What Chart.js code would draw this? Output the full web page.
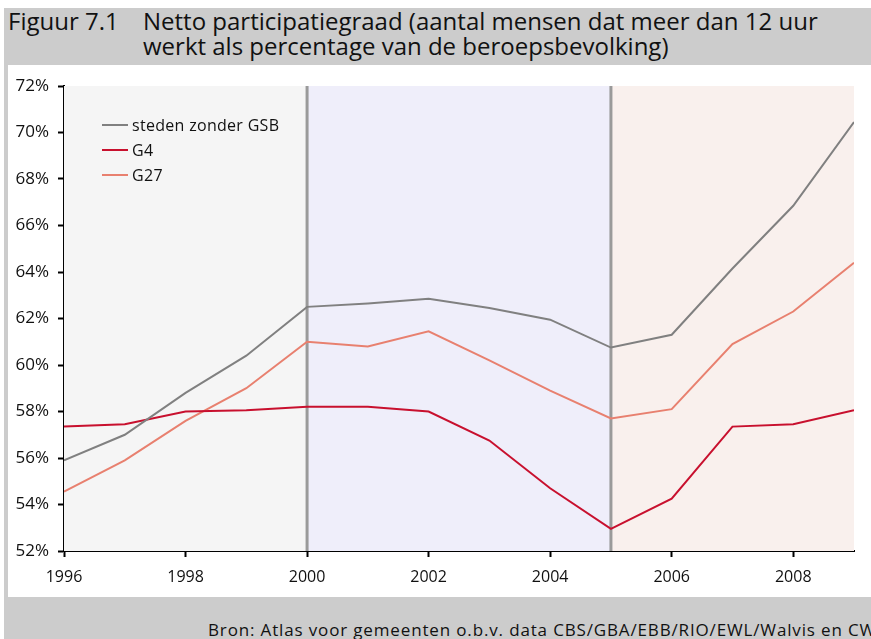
<!DOCTYPE html>
<html>
<head>
<meta charset="utf-8">
<script src="https://cdn.jsdelivr.net/npm/chart.js@4.4.1/dist/chart.umd.min.js"></script>
<style>
  html, body { margin: 0; padding: 0; width: 871px; height: 639px; overflow: hidden; background: #ffffff; font-family: "Open Sans", sans-serif; }
  #hdr { position: absolute; left: 4px; top: 8px; width: 867px; height: 57px; background: #cccccc; }
  #lstrip { position: absolute; left: 4px; top: 65px; width: 4px; height: 574px; background: #cccccc; }
  #bot { position: absolute; left: 4px; top: 597px; width: 867px; height: 42px; background: #cccccc; }
  .t { position: absolute; white-space: nowrap; color: #111; font-size: 24px; line-height: 1; letter-spacing: 0px; }
  #src { position: absolute; left: 208px; top: 621px; font-size: 17px; letter-spacing: 0.85px; white-space: nowrap; color: #111; line-height: 1; }
  #wrap { position: absolute; left: 8px; top: 65px; width: 863px; height: 532px; background: #ffffff; }
</style>
</head>
<body>
<div id="hdr"></div>
<div id="lstrip"></div>
<div id="bot"></div>
<div class="t" style="left:8px; top:9px;">Figuur 7.1</div>
<div class="t" style="left:143px; top:9px;">Netto participatiegraad (aantal mensen dat meer dan 12 uur</div>
<div class="t" style="left:143px; top:34px;">werkt als percentage van de beroepsbevolking)</div>
<div id="wrap"><canvas id="c" width="863" height="532"></canvas></div>
<div id="src">Bron: Atlas voor gemeenten o.b.v. data CBS/GBA/EBB/RIO/EWL/Walvis en CWI</div>
<script>
const years = [1996, 1997, 1998, 1999, 2000, 2001, 2002, 2003, 2004, 2005, 2006, 2007, 2008, 2009];
const stedenZonderGSB = [55.9, 57.0, 58.8, 60.4, 62.5, 62.65, 62.85, 62.45, 61.95, 60.75, 61.3, 64.15, 66.85, 70.45];
const g4 = [57.35, 57.45, 58.0, 58.05, 58.2, 58.2, 58.0, 56.75, 54.7, 52.95, 54.25, 57.35, 57.45, 58.05];
const g27 = [54.55, 55.9, 57.6, 59.0, 61.0, 60.8, 61.45, 60.2, 58.9, 57.7, 58.1, 60.9, 62.3, 64.4];
const seriesNames = ["steden zonder GSB", "G4", "G27"];
const periodBreaks = [1996, 2000, 2005, 2009];
const periodColors = ["#f5f5f5", "#efeefa", "#f9f0ed"];
const yTicks = [52, 54, 56, 58, 60, 62, 64, 66, 68, 70, 72];
const xTicks = [1996, 1998, 2000, 2002, 2004, 2006, 2008];

const toPts = arr => years.map((y, i) => ({ x: y, y: arr[i] }));

const bandsPlugin = {
  id: 'bands',
  beforeDatasetsDraw(chart) {
    const { ctx, chartArea: a, scales: { x } } = chart;
    ctx.save();
    for (let i = 0; i < periodColors.length; i++) {
      const x0 = x.getPixelForValue(periodBreaks[i]);
      const x1 = x.getPixelForValue(periodBreaks[i + 1]);
      ctx.fillStyle = periodColors[i];
      ctx.fillRect(x0, a.top, x1 - x0, a.bottom - a.top);
    }
    ctx.strokeStyle = '#9a9a9a';
    ctx.lineWidth = 3;
    for (let i = 1; i < periodBreaks.length - 1; i++) {
      const px = x.getPixelForValue(periodBreaks[i]);
      ctx.beginPath();
      ctx.moveTo(px, a.top);
      ctx.lineTo(px, a.bottom);
      ctx.stroke();
    }
    ctx.restore();
  }
};

const legendPlugin = {
  id: 'inlineLegend',
  afterDatasetsDraw(chart) {
    const { ctx, chartArea: a } = chart;
    ctx.save();
    ctx.font = '16px "Open Sans", sans-serif';
    if ('letterSpacing' in ctx) ctx.letterSpacing = '0.3px';
    ctx.textBaseline = 'middle';
    chart.data.datasets.forEach((ds, i) => {
      const y = a.top + 39 + i * 25;
      const x0 = a.left + 38;
      ctx.strokeStyle = ds.borderColor;
      ctx.lineWidth = 2;
      ctx.beginPath();
      ctx.moveTo(x0, y);
      ctx.lineTo(x0 + 26, y);
      ctx.stroke();
      ctx.fillStyle = '#111';
      ctx.fillText(ds.label, x0 + 30, y + 1);
    });
    ctx.restore();
  }
};

new Chart(document.getElementById('c'), {
  type: 'line',
  data: {
    datasets: [
      { label: seriesNames[0], data: toPts(stedenZonderGSB), borderColor: '#808080', borderWidth: 2, pointRadius: 0, tension: 0 },
      { label: seriesNames[1], data: toPts(g4), borderColor: '#c8102e', borderWidth: 2, pointRadius: 0, tension: 0 },
      { label: seriesNames[2], data: toPts(g27), borderColor: '#e8806f', borderWidth: 2, pointRadius: 0, tension: 0 }
    ]
  },
  options: {
    responsive: false,
    animation: false,
    layout: { padding: { top: 21, right: 17, left: 0, bottom: 0 } },
    plugins: { legend: { display: false }, tooltip: { enabled: false } },
    scales: {
      x: {
        type: 'linear', min: 1996, max: 2009,
        afterBuildTicks(s) { s.ticks = xTicks.map(v => ({ value: v })); },
        afterFit(s) { s.height = 46; },
        ticks: { callback: v => String(v), color: '#111', font: { family: 'Open Sans', size: 16 }, padding: 11, maxRotation: 0 },
        grid: { drawOnChartArea: false, drawTicks: true, tickLength: 6, tickColor: '#000', tickWidth: 2 },
        border: { display: true, color: '#000', width: 2 }
      },
      y: {
        type: 'linear', min: 52, max: 72,
        afterBuildTicks(s) { s.ticks = yTicks.map(v => ({ value: v })); },
        afterFit(s) { s.width = 56; },
        ticks: { callback: v => v + '%', color: '#111', font: { family: 'Open Sans', size: 17 }, padding: 9 },
        grid: { drawOnChartArea: false, drawTicks: true, tickLength: 6, tickColor: '#000', tickWidth: 2 },
        border: { display: true, color: '#000', width: 2 }
      }
    }
  },
  plugins: [bandsPlugin, legendPlugin]
});
</script>
</body>
</html>
